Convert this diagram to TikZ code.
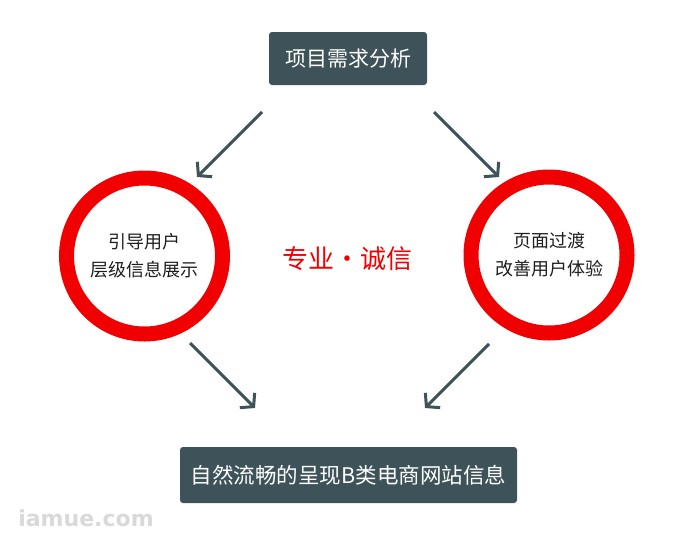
\documentclass[tikz,border=0pt]{standalone}
\usepackage{fontspec}
\setmainfont{Noto Sans CJK SC}
\newfontfamily\markfont{DejaVu Sans}
\usetikzlibrary{positioning, calc, arrows.meta}
\definecolor{slate}{RGB}{62,82,89}
\definecolor{ringred}{RGB}{240,0,0}
\definecolor{inktext}{RGB}{30,30,30}

\begin{document}
\begin{tikzpicture}[x=1pt, y=-1pt,
    topbox/.style={fill=slate, rounded corners=3pt, text=white, inner sep=0pt,
      font=\fontsize{21}{25}\selectfont},
    ring/.style={circle, draw=ringred, line width=15pt, minimum size=156pt,
      inner sep=0pt, align=center, text=inktext, font=\fontsize{18}{28}\selectfont},
    flow/.style={-{Straight Barb[length=9pt, width=21pt]}, line width=3pt, draw=slate}
  ]
  \useasboundingbox (0,0) rectangle (700,533);

  \node[topbox, minimum width=158pt, minimum height=53pt] (need) at (348,58.5) {项目需求分析};
  \node[topbox, minimum width=337pt, minimum height=56pt,
    font=\fontsize{21.5}{26}\selectfont] (show) at (348.5,475) {自然流畅的呈现B类电商网站信息};

  \node[ring] (guide) at (144.5,256) {引导用户\\层级信息展示};
  \node[ring] (trans) at (549,255) {页面过渡\\改善用户体验};

  \node[text=ringred, font=\fontsize{26}{30}\selectfont] (motto) at (347,259) {专业·诚信};

  % arrow ends
  \coordinate (a1) at (262,112);  \coordinate (a2) at (197,177);
  \coordinate (b1) at (434,112);  \coordinate (b2) at (499,177);
  \coordinate (c1) at (190,343);  \coordinate (c2) at (255,408);
  \coordinate (d1) at (489,344);  \coordinate (d2) at (425,408);

  \draw[flow] (a1) -- (a2);
  \draw[flow] (b1) -- (b2);
  \draw[flow] (c1) -- (c2);
  \draw[flow] (d1) -- (d2);

  \node[text=gray!30, font=\markfont\bfseries\fontsize{22}{24}\selectfont] (mark) at (86,518) {iamue.com};
\end{tikzpicture}
\end{document}
